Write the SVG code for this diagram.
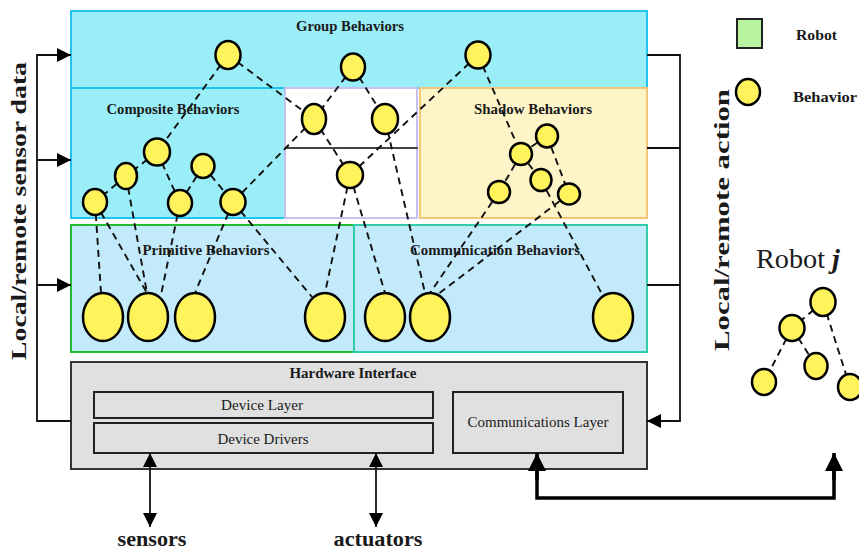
<svg xmlns="http://www.w3.org/2000/svg" width="859" height="553" viewBox="0 0 859 553">
  <style>
    .lbl { font-family: "Liberation Serif", "Times New Roman", serif; font-weight: bold; fill: #1a1a1a; }
    .reg { font-family: "Liberation Serif", "Times New Roman", serif; fill: #1a1a1a; }
    .beh { fill: #fff35c; stroke: #000; stroke-width: 2.5; }
    .dash { stroke: #111; stroke-width: 1.9; stroke-dasharray: 7 5; fill: none; }
    .wire { stroke: #111; stroke-width: 1.8; fill: none; }
    .thick { stroke: #000; stroke-width: 3.5; fill: none; }
  </style>
  <defs>
    <marker id="tri" viewBox="0 0 10 10" refX="10" refY="5" markerWidth="14" markerHeight="16" markerUnits="userSpaceOnUse" orient="auto-start-reverse">
      <path d="M0,0 L10,5 L0,10 Z" fill="#000"/>
    </marker>
    <marker id="triBig" viewBox="0 0 10 10" refX="10" refY="5" markerWidth="18" markerHeight="18" markerUnits="userSpaceOnUse" orient="auto-start-reverse">
      <path d="M0,0 L10,5 L0,10 Z" fill="#000"/>
    </marker>
  </defs>
  <rect width="859" height="553" fill="#fff"/>

  <!-- layer boxes -->
  <g id="group-behaviors">
    <rect x="71" y="11" width="576" height="77" fill="#9aeef8" stroke="#22c4ee" stroke-width="2"/>
    <text class="lbl" x="350" y="31" font-size="14" text-anchor="middle" textLength="108" lengthAdjust="spacingAndGlyphs">Group Behaviors</text>
  </g>
  <g id="composite-behaviors">
    <rect x="71" y="88" width="214" height="130" fill="#9aeef8" stroke="#22c4ee" stroke-width="2"/>
    <text class="lbl" x="173" y="114" font-size="15" text-anchor="middle" textLength="133" lengthAdjust="spacingAndGlyphs">Composite Behaviors</text>
  </g>
  <g id="shared-region">
    <rect x="285" y="88" width="132" height="130" fill="#fff" stroke="#c8c0f0" stroke-width="2"/>
    <line x1="285" y1="148" x2="418" y2="148" stroke="#444" stroke-width="2"/>
  </g>
  <g id="shadow-behaviors">
    <rect x="420" y="88" width="227" height="130" fill="#fdf5c8" stroke="#f5c67a" stroke-width="2"/>
    <text class="lbl" x="533" y="114" font-size="15" text-anchor="middle" textLength="118" lengthAdjust="spacingAndGlyphs">Shadow Behaviors</text>
  </g>
  <g id="primitive-behaviors">
    <rect x="71" y="225" width="283" height="127" fill="#c2eafa" stroke="#22bb33" stroke-width="2"/>
    <text class="lbl" x="206" y="255" font-size="15" text-anchor="middle" textLength="127" lengthAdjust="spacingAndGlyphs">Primitive Behaviors</text>
  </g>
  <g id="communication-behaviors">
    <rect x="354" y="225" width="293" height="127" fill="#c2eafa" stroke="#33ccaa" stroke-width="2"/>
    <text class="lbl" x="495" y="255" font-size="15" text-anchor="middle" textLength="170" lengthAdjust="spacingAndGlyphs">Communication Behaviors</text>
  </g>
  <g id="hardware-interface">
    <rect x="71" y="362" width="576" height="107" fill="#e0e0e0" stroke="#333" stroke-width="2"/>
    <text class="lbl" x="353" y="378" font-size="14" text-anchor="middle" textLength="127" lengthAdjust="spacingAndGlyphs">Hardware Interface</text>
  </g>
  <g id="device-layer">
    <rect x="94" y="392" width="339" height="26" fill="#e0e0e0" stroke="#222" stroke-width="2"/>
    <text class="reg" x="262" y="410" font-size="15" text-anchor="middle" textLength="82" lengthAdjust="spacingAndGlyphs">Device Layer</text>
  </g>
  <g id="device-drivers">
    <rect x="94" y="423" width="339" height="30" fill="#e0e0e0" stroke="#222" stroke-width="2"/>
    <text class="reg" x="263" y="444" font-size="15" text-anchor="middle" textLength="91" lengthAdjust="spacingAndGlyphs">Device Drivers</text>
  </g>
  <g id="communications-layer">
    <rect x="453" y="392" width="170" height="61" fill="#e0e0e0" stroke="#222" stroke-width="2"/>
    <text class="reg" x="538" y="427" font-size="15" text-anchor="middle" textLength="141" lengthAdjust="spacingAndGlyphs">Communications Layer</text>
  </g>

  <!-- connectors -->
  <g id="connectors">
    <!-- behavior links -->
    <line class="dash" x1="228" y1="55" x2="157" y2="152"/>
    <line class="dash" x1="228" y1="55" x2="314" y2="119"/>
    <line class="dash" x1="353" y1="67" x2="314" y2="119"/>
    <line class="dash" x1="353" y1="67" x2="385" y2="119"/>
    <line class="dash" x1="478" y1="55" x2="350" y2="175"/>
    <line class="dash" x1="478" y1="55" x2="521" y2="154"/>
    <line class="dash" x1="314" y1="119" x2="233" y2="202"/>
    <line class="dash" x1="314" y1="119" x2="350" y2="175"/>
    <line class="dash" x1="385" y1="119" x2="425" y2="293"/>
    <line class="dash" x1="350" y1="175" x2="385" y2="293"/>
    <line class="dash" x1="350" y1="175" x2="325" y2="293"/>
    <line class="dash" x1="157" y1="152" x2="126" y2="176"/>
    <line class="dash" x1="157" y1="152" x2="180" y2="203"/>
    <line class="dash" x1="126" y1="176" x2="95" y2="202"/>
    <line class="dash" x1="203" y1="166" x2="180" y2="203"/>
    <line class="dash" x1="203" y1="166" x2="233" y2="202"/>
    <line class="dash" x1="95" y1="202" x2="101" y2="293"/>
    <line class="dash" x1="95" y1="202" x2="147" y2="293"/>
    <line class="dash" x1="126" y1="176" x2="147" y2="293"/>
    <line class="dash" x1="180" y1="203" x2="161" y2="295"/>
    <line class="dash" x1="233" y1="202" x2="195" y2="293"/>
    <line class="dash" x1="233" y1="202" x2="312" y2="297"/>
    <line class="dash" x1="547" y1="136" x2="521" y2="154"/>
    <line class="dash" x1="547" y1="136" x2="569" y2="194"/>
    <line class="dash" x1="521" y1="154" x2="499" y2="192"/>
    <line class="dash" x1="521" y1="154" x2="541" y2="180"/>
    <line class="dash" x1="499" y1="192" x2="430" y2="293"/>
    <line class="dash" x1="569" y1="194" x2="437" y2="295"/>
    <line class="dash" x1="541" y1="180" x2="603" y2="296"/>
    <line class="dash" x1="823" y1="302" x2="792" y2="328"/>
    <line class="dash" x1="823" y1="302" x2="850" y2="387"/>
    <line class="dash" x1="792" y1="328" x2="764" y2="382"/>
    <line class="dash" x1="792" y1="328" x2="816" y2="366"/>

    <!-- sensor data feed on the left -->
    <polyline class="wire" points="71,421 37,421 37,55 58,55"/>
    <line class="wire" x1="37" y1="55" x2="71" y2="55" marker-end="url(#tri)"/>
    <line class="wire" x1="37" y1="160" x2="71" y2="160" marker-end="url(#tri)"/>
    <line class="wire" x1="37" y1="285" x2="71" y2="285" marker-end="url(#tri)"/>

    <!-- action bus on the right -->
    <polyline class="wire" points="647,55 680,55 680,421 660,421"/>
    <line class="wire" x1="647" y1="148" x2="680" y2="148"/>
    <line class="wire" x1="647" y1="285" x2="680" y2="285"/>
    <line class="wire" x1="680" y1="421" x2="647" y2="421" marker-end="url(#tri)"/>

    <!-- sensors / actuators -->
    <line class="wire" x1="150" y1="453" x2="150" y2="527" marker-start="url(#tri)" marker-end="url(#tri)"/>
    <line class="wire" x1="376" y1="453" x2="376" y2="527" marker-start="url(#tri)" marker-end="url(#tri)"/>

    <!-- link to robot j -->
    <polyline class="thick" points="537,455 537,498 834,498 834,455"/>
    <line class="thick" x1="537" y1="480" x2="537" y2="453" marker-end="url(#triBig)"/>
    <line class="thick" x1="834" y1="480" x2="834" y2="453" marker-end="url(#triBig)"/>
  </g>

  <!-- behaviors -->
  <g id="group-nodes">
    <ellipse class="beh" cx="228" cy="55" rx="12.5" ry="14"/>
    <ellipse class="beh" cx="353" cy="67" rx="12" ry="13.5"/>
    <ellipse class="beh" cx="478" cy="55" rx="12.5" ry="13.5"/>
    <ellipse class="beh" cx="314" cy="119" rx="12" ry="15"/>
    <ellipse class="beh" cx="385" cy="119" rx="13" ry="15"/>
    <ellipse class="beh" cx="350" cy="175" rx="13" ry="13"/>
  </g>
  <g id="composite-nodes">
    <ellipse class="beh" cx="157" cy="152" rx="13" ry="13.5"/>
    <ellipse class="beh" cx="126" cy="176" rx="11" ry="13"/>
    <ellipse class="beh" cx="203" cy="166" rx="11.5" ry="12"/>
    <ellipse class="beh" cx="95" cy="202" rx="12" ry="13"/>
    <ellipse class="beh" cx="180" cy="203" rx="12" ry="13"/>
    <ellipse class="beh" cx="233" cy="202" rx="12.5" ry="13"/>
  </g>
  <g id="shadow-nodes">
    <ellipse class="beh" cx="547" cy="136" rx="11" ry="11.5"/>
    <ellipse class="beh" cx="521" cy="154" rx="11" ry="11"/>
    <ellipse class="beh" cx="541" cy="180" rx="10.5" ry="11"/>
    <ellipse class="beh" cx="499" cy="192" rx="11" ry="11"/>
    <ellipse class="beh" cx="569" cy="194" rx="11" ry="10.5"/>
  </g>
  <g id="primitive-nodes">
    <ellipse class="beh" cx="103" cy="317" rx="20" ry="24"/>
    <ellipse class="beh" cx="148" cy="317" rx="20" ry="24"/>
    <ellipse class="beh" cx="195" cy="317" rx="20" ry="24"/>
    <ellipse class="beh" cx="325" cy="317" rx="20" ry="24"/>
  </g>
  <g id="communication-nodes">
    <ellipse class="beh" cx="385" cy="317" rx="20" ry="24"/>
    <ellipse class="beh" cx="430" cy="317" rx="20" ry="24"/>
    <ellipse class="beh" cx="613" cy="317" rx="20" ry="24"/>
  </g>
  <g id="robot-j">
    <text class="reg" x="798" y="268" font-size="27" text-anchor="middle" textLength="84" lengthAdjust="spacingAndGlyphs">Robot <tspan font-style="italic" font-weight="bold">j</tspan></text>
    <ellipse class="beh" cx="823" cy="302" rx="12.5" ry="14"/>
    <ellipse class="beh" cx="792" cy="328" rx="12.5" ry="13"/>
    <ellipse class="beh" cx="764" cy="382" rx="12" ry="13"/>
    <ellipse class="beh" cx="816" cy="366" rx="11.5" ry="13"/>
    <ellipse class="beh" cx="850" cy="387" rx="12" ry="13"/>
  </g>

  <!-- legend -->
  <g id="legend">
    <rect x="737" y="19" width="25" height="29" fill="#b8f3a0" stroke="#222" stroke-width="2"/>
    <text class="lbl" x="796" y="40" font-size="15" textLength="41" lengthAdjust="spacingAndGlyphs">Robot</text>
    <ellipse class="beh" cx="748" cy="92" rx="12" ry="13"/>
    <text class="lbl" x="793" y="102" font-size="15" textLength="64" lengthAdjust="spacingAndGlyphs">Behavior</text>
  </g>

  <!-- side labels -->
  <text class="lbl" font-size="21" text-anchor="middle" transform="translate(26 211) rotate(-90)" textLength="298" lengthAdjust="spacingAndGlyphs">Local/remote sensor data</text>
  <text class="lbl" font-size="21" text-anchor="middle" transform="translate(729 220) rotate(-90)" textLength="262" lengthAdjust="spacingAndGlyphs">Local/remote action</text>
  <text class="lbl" x="152" y="546" font-size="21" text-anchor="middle" textLength="69" lengthAdjust="spacingAndGlyphs">sensors</text>
  <text class="lbl" x="378" y="546" font-size="21" text-anchor="middle" textLength="89" lengthAdjust="spacingAndGlyphs">actuators</text>
</svg>
